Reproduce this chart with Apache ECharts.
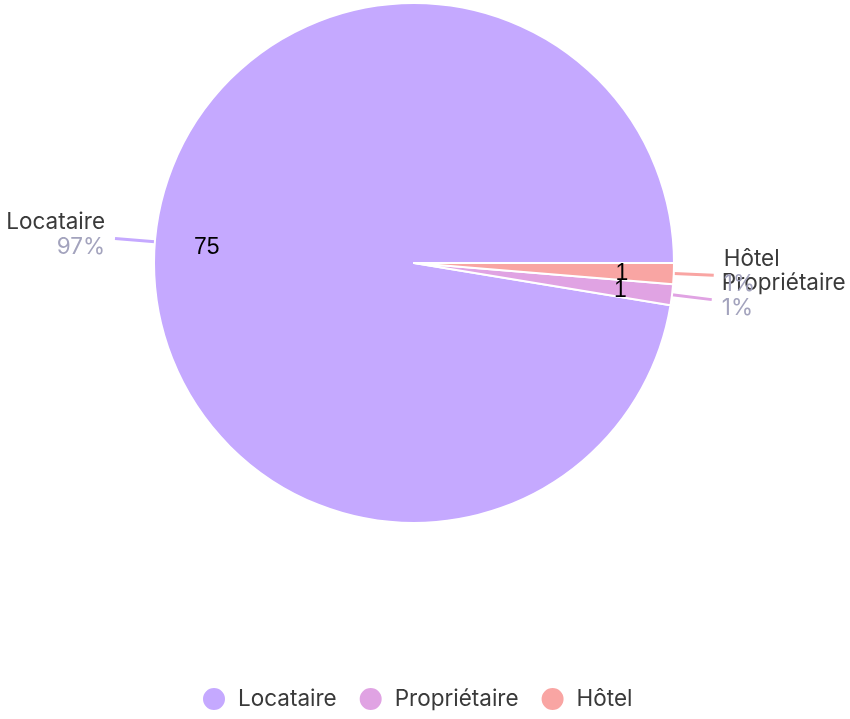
<!DOCTYPE html>
<html>
<head>
<meta charset="utf-8">
<style>html,body{margin:0;padding:0;background:#fff;}#c{width:850px;height:719px;}</style>
<script src="https://cdn.jsdelivr.net/npm/echarts@6/dist/echarts.min.js"></script>
</head>
<body>
<div id="c"></div>
<script>
const categories = ['Locataire', 'Propriétaire', 'Hôtel'];
const values = [75, 1, 1];
const colors = ['#c5a9ff', '#e0a3e3', '#f9a5a3'];

const data = categories.map((n, i) => ({ name: n, value: values[i] }));
const FONT = 'Inter';
const chart = echarts.init(document.getElementById('c'));
chart.setOption({
  animation: false,
  color: colors,
  textStyle: { fontFamily: FONT },
  legend: {
    bottom: 2,
    left: 196,
    icon: 'circle',
    itemWidth: 24,
    itemHeight: 24,
    itemGap: 21,
    textStyle: { fontSize: 22.5, color: '#3a3a3a', fontFamily: FONT, padding: [0, 0, 0, 7] },
    data: categories
  },
  series: [
    {
      type: 'pie',
      center: [414, 263],
      radius: [0, 260],
      startAngle: 0,
      clockwise: false,
      avoidLabelOverlap: false,
      labelLayout: { hideOverlap: false },
      itemStyle: { borderColor: '#fff', borderWidth: 2 },
      label: {
        show: true,
        position: 'outside',
        distanceToLabelLine: 10,
        padding: [0, 0, 8, 0],
        formatter: p => '{n|' + p.name + '}\n{p|' + Math.round(p.percent) + '%}',
        rich: {
          n: { fontSize: 22.5, color: '#3a3a3a', fontFamily: FONT, lineHeight: 25 },
          p: { fontSize: 22.5, color: '#a3a3bd', fontFamily: FONT, lineHeight: 25 }
        }
      },
      labelLine: { show: true, length: 40, length2: 0, lineStyle: { width: 3 } },
      data: data
    },
    {
      type: 'pie',
      center: [414, 265],
      radius: [150, 260],
      startAngle: 0,
      clockwise: false,
      silent: true,
      avoidLabelOverlap: false,
      labelLayout: { hideOverlap: false },
      itemStyle: { color: 'rgba(0,0,0,0)', borderWidth: 0 },
      label: {
        show: true,
        position: 'inside',
        formatter: '{c}',
        fontSize: 23,
        color: '#000',
        fontFamily: 'Liberation Sans'
      },
      labelLine: { show: false },
      data: data
    }
  ]
});
</script>
</body>
</html>
